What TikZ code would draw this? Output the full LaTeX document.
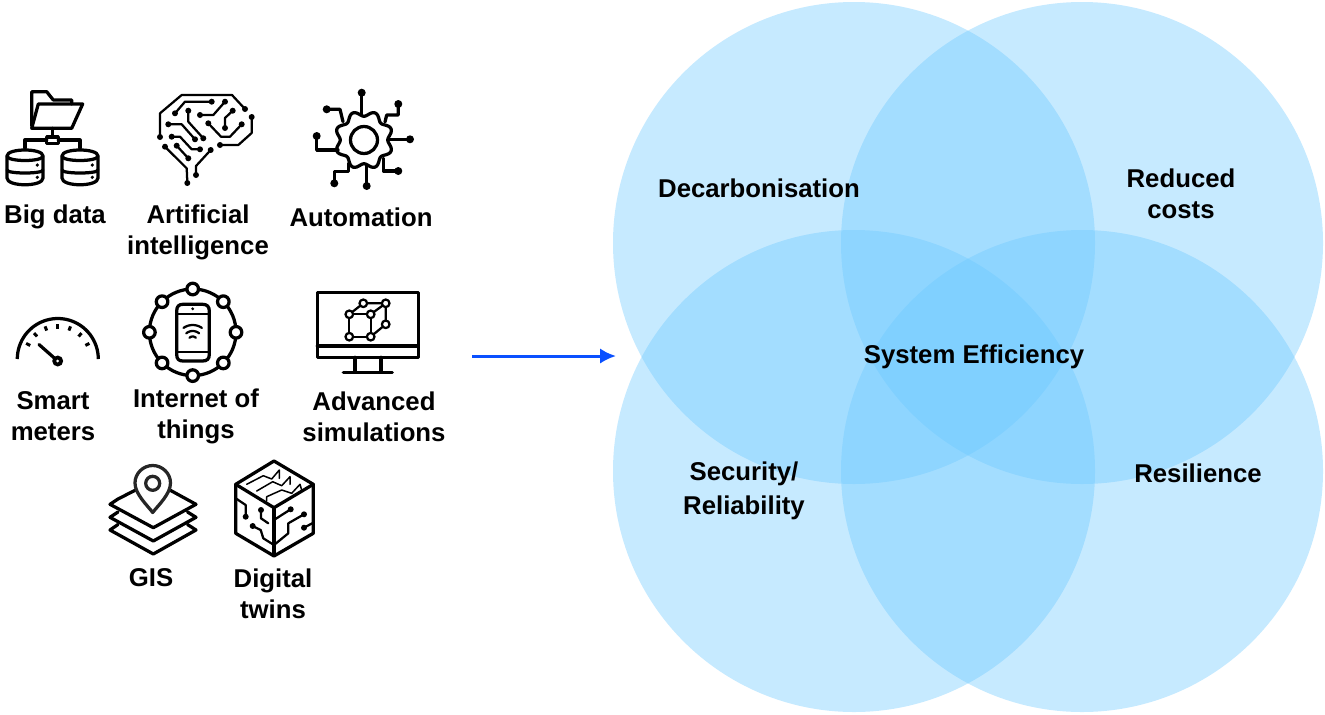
\documentclass[tikz,border=0pt]{standalone}
\usepackage{fontspec}
\setmainfont{Liberation Sans}
\usetikzlibrary{arrows.meta}
\definecolor{vennblue}{RGB}{107,200,255}
\definecolor{arrowblue}{RGB}{10,80,255}
\tikzset{
    vennset/.style={fill=vennblue, fill opacity=0.385, draw=none},
    txt/.style={font=\fontsize{14.65}{17.6}\selectfont\bfseries, align=center, text=black, inner sep=0pt},
    icon/.style={line width=0.065cm, line join=round, line cap=round},
    fineicon/.style={line width=0.045cm, line join=round, line cap=round},
    thinicon/.style={line width=0.03cm, line join=round, line cap=round}
}

\begin{document}
\begin{tikzpicture}[x=0.02cm, y=-0.02cm]
        \useasboundingbox (0,0) rectangle (1325,714);

        % Venn circles
        \fill[vennset] (854,243) circle (241);
        \fill[vennset] (1082,243) circle (241);
        \fill[vennset] (854,471) circle (241);
        \fill[vennset] (1082,471) circle (241);
        \node[txt] (decarb) at (759,188) {Decarbonisation};
        \node[txt] (costs) at (1181,194) {Reduced\\costs};
        \node[txt] (efficiency) at (974,357) {System Efficiency};
        \node[txt] (security) at (744,491) {Security/\\[1.7pt]Reliability};
        \node[txt] (resilience) at (1198,473) {Resilience};

        % Arrow
        \coordinate (arrowstart) at (472,356);
        \coordinate (arrowend) at (616,356);
        \draw[arrowblue, line width=0.06cm, -{Latex[length=0.32cm, width=0.31cm]}] (arrowstart) -- (arrowend);

        % Big data
        \draw[icon] (31.7,126) -- (31.7,91.7) -- (46.7,91.7) -- (53.3,100) -- (71.7,100) -- (71.7,104);
        \draw[icon] (38.3,104) -- (82.7,104) -- (71.7,128.3) -- (31.7,128.3) -- cycle;
        \draw[icon] (52.3,128.3) -- (52.3,137);
        \draw[icon] (46.7,137) rectangle (58.3,143.3);
        \draw[icon] (25,148) -- (25,140) -- (46.7,140);
        \draw[icon] (58.3,140) -- (80,140) -- (80,148);
        \foreach \dx in {0,55} {
            \begin{scope}[xshift=\dx*0.02cm]
                \draw[icon] (7,156) .. controls (7,148) and (43,148) .. (43,156) -- (43,178) .. controls (43,187) and (7,187) .. (7,178) -- cycle;
                \draw[icon] (7,156) .. controls (7,162) and (43,162) .. (43,156);
                \draw[icon] (7,170) .. controls (7,174) and (43,174) .. (43,170);
                \fill (37.3,165) circle (1.8);
                \fill (37.3,177.3) circle (1.8);
            \end{scope}
        }
        \node[txt] (bigdata) at (55,217) {Big data};

        % Artificial intelligence
        \begin{scope}[fineicon]
            \draw (160,137) -- (160,113.3) -- (181.7,95) -- (232,95) -- (245,109);
            \draw (220,145) -- (238.3,145) -- (251.7,133) -- (251.7,117);
            \draw (211.7,101.7) -- (185,101.7) -- (175,113.3);
            \draw (188.3,110.7) -- (188.3,121.7) -- (203.3,138.3);
            \draw (200,115) -- (213.3,115) -- (225,101.7);
            \draw (168.3,124.3) -- (181.7,124.3) -- (195,139.3);
            \draw (171.7,136.7) -- (180,136.7) -- (191.7,149.3) -- (200,149.3);
            \draw (165,146.7) -- (186.7,168.3) -- (187.3,181.7);
            \draw (176.7,145.7) -- (188.3,158.3);
            \draw (210.7,150) -- (196,166) -- (196,175);
            \draw (208.3,123.3) -- (221,136.7) -- (230,136.7) -- (241.7,124.3);
            \draw (225,128) -- (225,118) -- (232.7,110.7);
        \end{scope}
        \foreach \p in {(160,137),(245,109),(220,145),(251.7,117),(211.7,101.7),(175,113.3),(188.3,110.7),(203.3,138.3),(200,115),(225,101.7),(168.3,124.3),(195,139.3),(171.7,136.7),(200,149.3),(165,146.7),(187.3,183),(176.7,145.7),(188.3,158.3),(210.7,150),(196,175),(208.3,123.3),(241.7,124.3),(225,128),(232.7,110.7)}
            \fill \p circle (3);
        \node[txt] (ai) at (198,232.5) {Artificial\\intelligence};

        % Automation
        \draw[icon] plot[domain=0:360, samples=97, smooth] ({364+(26.5-2.8*cos(8*\x))*cos(\x)}, {140+(26.5-2.8*cos(8*\x))*sin(\x)}) -- cycle;
        \draw[icon] (364,140) circle (13.5);
        \draw[icon] (361.7,115) -- (361.7,92.7);
        \draw[icon] (343,121.7) -- (340,109.3) -- (326.7,109.3);
        \draw[icon] (385,122) -- (386.7,115) -- (398.3,115) -- (398.3,104);
        \draw[icon] (388,139.3) -- (410,139.3);
        \draw[icon] (338,150) -- (316.7,150) -- (316.7,136);
        \draw[icon] (348.3,163.3) -- (348.3,171.7) -- (334.3,171.7) -- (334.3,183.3);
        \draw[icon] (366.7,165) -- (366.7,186);
        \draw[icon] (383.3,158.3) -- (383.3,171) -- (398.3,171);
        \foreach \p in {(361.7,92.7),(326.7,109.3),(398.3,104),(410,139.3),(316.7,136),(334.3,183.3),(366.7,186),(398.3,171)}
            \fill \p circle (4);
        \node[txt] (automation) at (361,217) {Automation};

        % Smart meters
        \draw[icon, line cap=butt] plot[domain=180:0, samples=40, smooth] ({57.8+40.5*cos(\x)}, {359-40.5*sin(\x)});
        \foreach \a in {27,48,69,90,111,132,153}
            \draw[line width=0.06cm] ({57.8+31*cos(\a)}, {359.5-31*sin(\a)}) -- ({57.8+35.5*cos(\a)}, {359.5-35.5*sin(\a)});
        \draw[icon] (39,344.5) -- (57.7,361);
        \fill (57.7,361) circle (5.5);
        \fill[white] (57.7,361) circle (1.5);
        \node[txt] (meters) at (53,416.5) {Smart\\meters};

        % Internet of things
        \draw[icon] (192.7,332.3) circle (43.3);
        \foreach \a in {0,45,...,315}
            \draw[icon, fill=white] ({192.7+43.3*cos(\a)}, {332.3+43.3*sin(\a)}) circle (5.8);
        \draw[icon] (183,304.3) -- (202.5,304.3) .. controls (207,304.3) and (209.3,306.5) .. (209.3,311) -- (209.3,354.5) .. controls (209.3,359) and (207,361) .. (202.5,361) -- (183,361) .. controls (178.7,361) and (176.7,359) .. (176.7,354.5) -- (176.7,311) .. controls (176.7,306.5) and (178.7,304.3) .. cycle;
        \draw[fineicon] (176.7,314.3) -- (209.3,314.3);
        \draw[fineicon] (176.7,352.3) -- (209.3,352.3);
        \fill (192.7,308.8) circle (1.6);
        \draw[fineicon] plot[domain=55:125, samples=12, smooth] ({192.7+16*cos(\x)}, {341-16*sin(\x)});
        \draw[fineicon] plot[domain=50:130, samples=12, smooth] ({192.7+10*cos(\x)}, {341-10*sin(\x)});
        \draw[fineicon] plot[domain=45:135, samples=12, smooth] ({192.7+4.5*cos(\x)}, {341-4.5*sin(\x)});
        \node[txt] (iot) at (196,416.5) {Internet of\\things};

        % Advanced simulations
        \draw[icon] (317.3,292.7) rectangle (418.3,357.3);
        \draw[icon] (317.3,346) -- (418.3,346);
        \draw[icon] (355,357.3) -- (355,372.3);
        \draw[icon] (381,357.3) -- (381,372.3);
        \draw[icon] (343.3,372.3) -- (392.3,372.3);
        \draw[fineicon] (349.3,314.3) -- (370.7,314.3) -- (370.7,336.7) -- (349.3,336.7) -- cycle;
        \draw[fineicon] (349.3,314.3) -- (363.3,303.3) -- (385.7,303.3) -- (385.7,324.3) -- (370.7,336.7);
        \draw[fineicon] (370.7,314.3) -- (385.7,303.3);
        \foreach \p in {(363.3,303.3),(385.7,303.3),(385.7,324.3),(349.3,314.3),(370.7,314.3),(370.7,336.7),(349.3,336.7)}
            \draw[fineicon, fill=white] \p circle (3.8);
        \node[txt] (simulations) at (374,416.5) {Advanced\\simulations};

        % GIS
        \draw[icon] (118,499) -- (110,504.3) -- (153.3,527.7) -- (196,504.3) -- (153.3,481) -- cycle;
        \draw[icon] (118,512) -- (110,517.3) -- (153.3,541) -- (196,517.3) -- (187.5,512);
        \draw[icon] (118,524.5) -- (110,530) -- (153.3,554) -- (196,530) -- (187.5,524.5);
        \draw[icon, draw=black!85, fill=white] (152.7,465.5) .. controls (143,465.5) and (135,473.5) .. (135,483) .. controls (135,494) and (147,505) .. (152.7,512.5) .. controls (158.5,505) and (170.5,494) .. (170.5,483) .. controls (170.5,473.5) and (162.5,465.5) .. cycle;
        \draw[icon, draw=black!85] (152.7,483.3) circle (7);
        \node[txt] (gis) at (151,578) {GIS};

        % Digital twins
        \draw[icon] (274,461) -- (313.3,484.3) -- (313.3,533.3) -- (274,556) -- (235.7,533.3) -- (235.7,484.3) -- cycle;
        \draw[icon] (235.7,484.3) -- (274,507.7) -- (313.3,484.3);
        \draw[line width=0.09cm] (274,507.7) -- (274,556);
        \begin{scope}[thinicon]
            \draw (246.7,484.3) -- (263.3,475.7) -- (271.7,479) -- (279.3,470) -- (279.3,478.3);
            \draw (256.7,491) -- (272.7,481.7) -- (281.7,485.7) -- (290,476.7) -- (290,484.3);
            \draw (266.7,501) -- (266.7,496.7) -- (281.7,490) -- (291.7,493.3) -- (300,484.3) -- (301.7,490);
        \end{scope}
        \begin{scope}[fineicon]
            \draw (235.7,498.3) -- (245.7,505) -- (245.7,516.7);
            \draw (261,510) -- (261,518.3) -- (268.3,523.3);
            \draw (252.7,526) -- (260.7,530) -- (263.3,538.3) -- (274,545);
            \draw (290.7,509.3) -- (281.7,515) -- (274,520);
            \draw (304,514.3) -- (288.3,523.3) -- (288.3,533.3) -- (274,545);
            \draw (304,527.7) -- (313.3,522.7);
        \end{scope}
        \foreach \p in {(245.7,516.7),(261,510),(252.7,526),(290.7,509.3),(304,514.3),(304,527.7)}
            \fill \p circle (3);
        \node[txt] (twins) at (273,593.5) {Digital\\twins};
\end{tikzpicture}
\end{document}
